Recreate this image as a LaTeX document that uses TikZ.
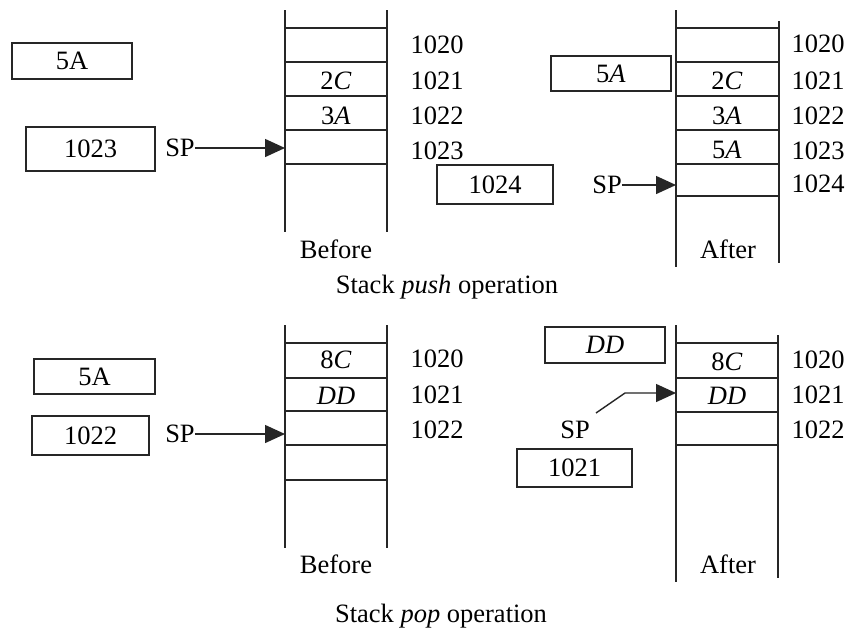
\documentclass[tikz,border=0pt]{standalone}
\usepackage{fontspec}
\setmainfont{Liberation Serif}
\usetikzlibrary{arrows.meta}
\begin{document}
\begin{tikzpicture}[x=1pt,y=-1pt,
  txt/.style={font=\fontsize{26.5}{30}\selectfont, inner sep=0pt},
  regbox/.style={draw=black!85, line width=1.6pt, inner sep=0pt, font=\fontsize{26.5}{30}\selectfont},
  stk/.style={line width=1.6pt, draw=black!85},
  ptr/.style={line width=1.4pt, draw=black!85, -{Triangle[length=20pt,width=18pt]}}]
\useasboundingbox (0,0) rectangle (848,630);
\fill[white] (0,0) rectangle (848,630);

% ===== Top left: push, before =====
\draw[stk] (285,10) -- (285,232) (387,10) -- (387,232);
\foreach \y in {28,62,96,130,164} \draw[stk] (285,\y) -- (387,\y);
\node[txt] (pb2c) at (336,81) {2\textit{C}};
\node[txt] (pb3a) at (336,116) {3\textit{A}};
\node[txt] (pba0) at (437,45) {1020};
\node[txt] (pba1) at (437,81) {1021};
\node[txt] (pba2) at (437,116) {1022};
\node[txt] (pba3) at (437,151) {1023};
\node[regbox, minimum width=120pt, minimum height=36pt] (pbacc) at (72,61) {5A};
\node[regbox, minimum width=129pt, minimum height=44pt] (pbsp) at (90.5,149) {1023};
\node[txt] (pbsplab) at (180,148) {SP};
\coordinate (pbt) at (285,148);
\draw[ptr] (pbsplab.east) -- (pbt);
\node[txt, anchor=base] (pbbefore) at (336,258) {Before};

% ===== Top right: push, after =====
\draw[stk] (676,10) -- (676,267) (779,21) -- (779,263);
\foreach \y in {28,62,96,130,164,196} \draw[stk] (676,\y) -- (779,\y);
\node[txt] (pa2c) at (727,81) {2\textit{C}};
\node[txt] (pa3a) at (727,116) {3\textit{A}};
\node[txt] (pa5a) at (727,150) {5\textit{A}};
\node[txt] (paa0) at (818,44) {1020};
\node[txt] (paa1) at (818,81) {1021};
\node[txt] (paa2) at (818,116) {1022};
\node[txt] (paa3) at (818,151) {1023};
\node[txt] (paa4) at (818,184) {1024};
\node[regbox, minimum width=120pt, minimum height=35pt] (paacc) at (611,73.5) {5\textit{A}};
\node[regbox, minimum width=116pt, minimum height=39pt] (pasp) at (495,184.5) {1024};
\node[txt] (pasplab) at (607,185) {SP};
\coordinate (pat) at (676,185);
\draw[ptr] (pasplab.east) -- (pat);
\node[txt, anchor=base] (paafter) at (728,258) {After};

\node[txt, anchor=base] (pushcap) at (447,293) {Stack \textit{push} operation};

% ===== Bottom left: pop, before =====
\draw[stk] (285,325) -- (285,548) (387,325) -- (387,548);
\foreach \y in {343,378,411,445,480} \draw[stk] (285,\y) -- (387,\y);
\node[txt] (ob8c) at (336,360) {8\textit{C}};
\node[txt] (obdd) at (336,396) {\textit{DD}};
\node[txt] (oba0) at (437,359) {1020};
\node[txt] (oba1) at (437,395) {1021};
\node[txt] (oba2) at (437,430) {1022};
\node[regbox, minimum width=121pt, minimum height=35pt] (obacc) at (94.5,376.5) {5A};
\node[regbox, minimum width=117pt, minimum height=39pt] (obsp) at (90.5,435.5) {1022};
\node[txt] (obsplab) at (180,434) {SP};
\coordinate (obt) at (285,434);
\draw[ptr] (obsplab.east) -- (obt);
\node[txt, anchor=base] (obbefore) at (336,573) {Before};

% ===== Bottom right: pop, after =====
\draw[stk] (676,325) -- (676,582) (778,335) -- (778,578);
\foreach \y in {343,378,412,445} \draw[stk] (676,\y) -- (778,\y);
\node[txt] (oa8c) at (727,362) {8\textit{C}};
\node[txt] (oadd) at (727,396) {\textit{DD}};
\node[txt] (oaa0) at (818,360) {1020};
\node[txt] (oaa1) at (818,395) {1021};
\node[txt] (oaa2) at (818,430) {1022};
\node[regbox, minimum width=120pt, minimum height=36pt] (oaacc) at (605,345) {\textit{DD}};
\node[regbox, minimum width=115pt, minimum height=38pt] (oasp) at (574.5,468) {1021};
\node[txt] (oasplab) at (575,430) {SP};
\coordinate (oas) at (596,413);
\coordinate (oat) at (676,393);
\draw[ptr] (oas) -- (625,393) -- (oat);
\node[txt, anchor=base] (oaafter) at (728,573) {After};

\node[txt, anchor=base] (popcap) at (441,622) {Stack \textit{pop} operation};
\end{tikzpicture}
\end{document}
